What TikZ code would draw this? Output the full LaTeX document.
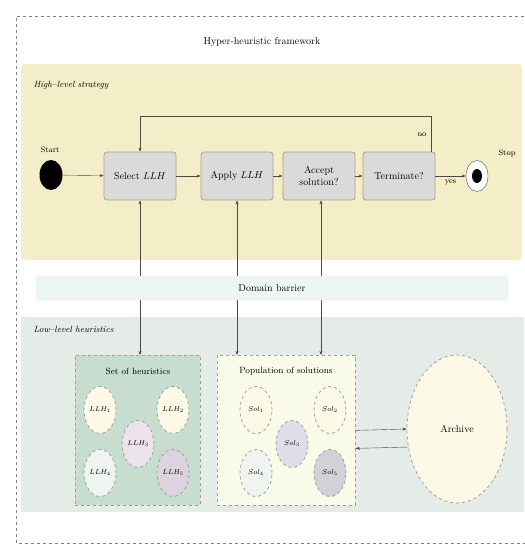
\documentclass[tikz,border=0pt]{standalone}
\usepackage{amsmath,amssymb}
\usetikzlibrary{arrows.meta}
\usetikzlibrary{shapes.geometric}

\definecolor{highbg}{HTML}{F4EEC8}
\definecolor{lowbg}{HTML}{E5EBE6}
\definecolor{barbg}{HTML}{EEF6F4}
\definecolor{boxfill}{HTML}{DADADA}
\definecolor{boxline}{HTML}{A8A286}
\definecolor{linecol}{HTML}{4A4A44}
\definecolor{setbg}{HTML}{C6DDD0}
\definecolor{popbg}{HTML}{FBFBEA}
\definecolor{itemyel}{HTML}{FCFAE6}
\definecolor{itempink}{HTML}{ECE2EC}
\definecolor{itemwhite}{HTML}{EFF4F1}
\definecolor{itemlav}{HTML}{DBD4DF}
\definecolor{itemblue}{HTML}{DEDDE9}
\definecolor{itemgray}{HTML}{D3D0D8}

\begin{document}
\begin{tikzpicture}[x=1pt,y=-1pt,
        proc/.style={draw=boxline, line width=0.8pt, fill=boxfill, rounded corners=3pt, minimum width=72pt, minimum height=48pt, align=center, inner sep=2pt},
        link/.style={draw=linecol, -{Stealth[length=4pt,width=3pt]}},
        bilink/.style={draw=linecol, {Stealth[length=4pt,width=3pt]}-{Stealth[length=4pt,width=3pt]}},
        pool/.style={draw=gray!75, dashed, thick},
        item/.style={ellipse, draw=gray!75, dashed, thick, minimum width=32pt, minimum height=47pt, inner sep=0pt, font=\scriptsize}]
        \useasboundingbox (0,0) rectangle (524,545);
        \draw [gray, dashed] (530,16) -- (16,16) -- (16,543) -- (530,543);
        \node (title) at (262,42) {Hyper-heuristic framework};
        \fill [highbg, rounded corners=4pt] (21,64) rectangle (522,260);
        \node [anchor=west, font=\small\itshape] (highlbl) at (30,85) {High--level strategy};
        \fill [lowbg] (21,317) rectangle (524,512);
        \node [anchor=west, font=\small\itshape] (lowlbl) at (30,329) {Low--level heuristics};

        \node [ellipse, fill=black, minimum width=23pt, minimum height=30pt, inner sep=0pt] (start) at (51,175) {};
        \node [font=\footnotesize] (startlbl) at (50,150) {Start};
        \node [proc] (select) at (140,176) {Select $LLH$};
        \node [proc] (apply) at (237,176) {Apply $LLH$};
        \node [proc] (accept) at (319,176) {Accept\\solution?};
        \node [proc] (term) at (399,176) {Terminate?};
        \node [ellipse, draw=linecol, fill=white, minimum width=22pt, minimum height=31pt, inner sep=0pt] (stop) at (477,176) {};
        \node [ellipse, fill=black, minimum width=10pt, minimum height=14pt, inner sep=0pt] (stopdot) at (stop.center) {};
        \node [font=\footnotesize] (stoplbl) at (507,153) {Stop};

        \draw [link] (start) -- (select);
        \draw [link] (select) -- (apply);
        \draw [link] (apply) -- (accept);
        \draw [link] (accept) -- (term);
        \draw [link] (term) -- node [below, font=\footnotesize] {yes} (stop);
        \draw [link] ([xshift=-4pt]term.north east) -- ++(0,-35) coordinate (loopr) -| (select.north);
        \node [font=\footnotesize, anchor=east] (nolbl) at (430,135) {no};

        \node [pool, fill=setbg, minimum width=125pt, minimum height=150pt, anchor=north west] (set) at (75,355) {};
        \node [font=\small] (setlbl) at (138,371) {Set of heuristics};
        \foreach \i/\px/\py/\c in {1/100/410/itemyel, 2/173/410/itemyel, 3/138/444/itempink, 4/100/473/itemwhite, 5/173/473/itemlav}
            \node [item, fill=\c] (llh\i) at (\px,\py) {$LLH_{\i}$};

        \node [pool, fill=popbg, minimum width=138pt, minimum height=150pt, anchor=north west] (pop) at (217,355) {};
        \node [font=\small] (poplbl) at (286,371) {Population of solutions};
        \foreach \i/\px/\py/\c in {1/256/410/itemyel, 2/330/410/itemyel, 3/292/444/itemblue, 4/256/473/itemwhite, 5/330/473/itemgray}
            \node [item, fill=\c] (sol\i) at (\px,\py) {$Sol_{\i}$};

        \node [ellipse, draw=gray!75, dashed, thick, fill=itemyel, minimum width=100pt, minimum height=148pt, inner sep=0pt] (archive) at (457,429) {Archive};
        \draw [link] (pop.east) -- (archive.west);
        \draw [link] ([shift={(2pt,-18pt)}]archive.west) -- ([yshift=-18pt]pop.east);

        \draw [bilink] (select.south) -- (select.south |- set.north);
        \draw [bilink] (apply.south) -- (apply.south |- pop.north);
        \draw [bilink] ([xshift=2pt]accept.south) -- ([xshift=2pt]accept.south |- pop.north);

        \node [draw=gray!20, fill=barbg, rounded corners=4pt, minimum width=472pt, minimum height=24pt] (barrier) at (272,288) {Domain barrier};
    \end{tikzpicture}
\end{document}
